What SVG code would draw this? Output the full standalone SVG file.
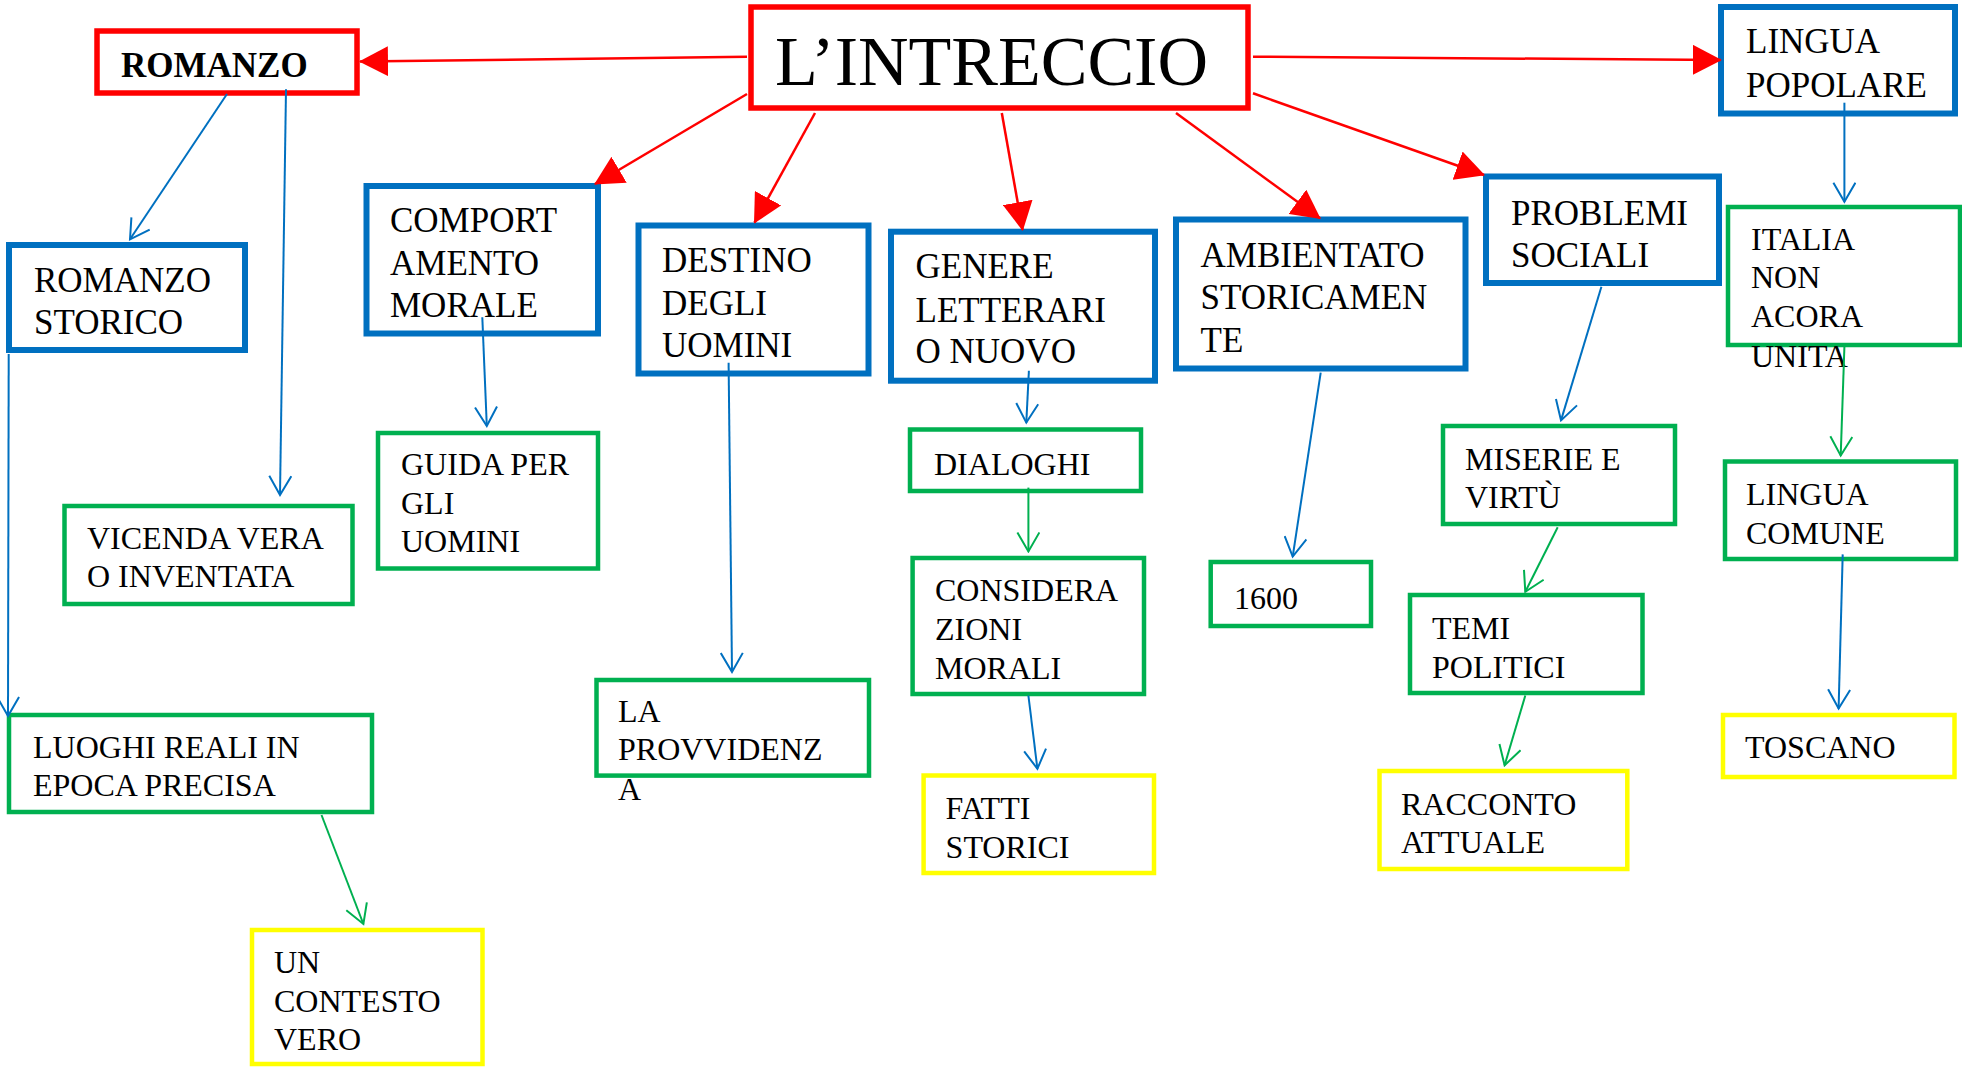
<svg xmlns="http://www.w3.org/2000/svg" width="1962" height="1069" viewBox="0 0 1962 1069">
<style>
text{font-family:"Liberation Serif","Times New Roman",serif;fill:#000}
.t{font-size:35px}
.s{font-size:32px}
rect{fill:#fff}
.red{stroke:#FF0000;stroke-width:5.5}
.blue{stroke:#0070C0;stroke-width:6}
.green{stroke:#00B050;stroke-width:4.5}
.yellow{stroke:#FFFF00;stroke-width:4.5}
.lr{stroke:#FF0000;stroke-width:2.5;fill:none;marker-end:url(#ar)}
.lb{stroke:#0070C0;stroke-width:2;fill:none;marker-end:url(#ab)}
.lg{stroke:#00B050;stroke-width:2;fill:none;marker-end:url(#ag)}
</style>
<defs>
<marker id="ar" viewBox="0 0 29 30" markerWidth="29" markerHeight="30" refX="28" refY="15" orient="auto" markerUnits="userSpaceOnUse"><path d="M0,0 L29,15 L0,30 Z" fill="#FF0000"/></marker>
<marker id="ab" viewBox="0 0 22 24" markerWidth="22" markerHeight="24" refX="20" refY="12" orient="auto" markerUnits="userSpaceOnUse"><path d="M1,1 L20,12 L1,23" fill="none" stroke="#0070C0" stroke-width="2"/></marker>
<marker id="ag" viewBox="0 0 22 24" markerWidth="22" markerHeight="24" refX="20" refY="12" orient="auto" markerUnits="userSpaceOnUse"><path d="M1,1 L20,12 L1,23" fill="none" stroke="#00B050" stroke-width="2"/></marker>
</defs>

<g id="intreccio"><rect class="red" x="751" y="7" width="497" height="101" stroke-width="6"/><text x="775" y="85" font-size="70">L’INTRECCIO</text></g>
<g id="romanzo"><rect class="red" x="97" y="31" width="260" height="62"/><text x="121" y="77" font-size="35" font-weight="bold">ROMANZO</text></g>
<g id="romanzo-storico"><rect class="blue" x="9" y="245" width="236" height="105"/><text class="t"><tspan x="34" y="292">ROMANZO</tspan><tspan x="34" y="334">STORICO</tspan></text></g>
<g id="comportamento"><rect class="blue" x="366.5" y="186" width="231.5" height="147.5"/><text class="t"><tspan x="390" y="232">COMPORT</tspan><tspan x="390" y="275">AMENTO</tspan><tspan x="390" y="317">MORALE</tspan></text></g>
<g id="destino"><rect class="blue" x="638.5" y="225.5" width="230" height="148"/><text class="t"><tspan x="662" y="272">DESTINO</tspan><tspan x="662" y="315">DEGLI</tspan><tspan x="662" y="357">UOMINI</tspan></text></g>
<g id="genere"><rect class="blue" x="891" y="231.7" width="264" height="149"/><text class="t"><tspan x="915.5" y="278">GENERE</tspan><tspan x="915.5" y="322">LETTERARI</tspan><tspan x="915.5" y="363">O NUOVO</tspan></text></g>
<g id="ambientato"><rect class="blue" x="1176" y="219.5" width="289.5" height="149"/><text class="t"><tspan x="1200.5" y="267">AMBIENTATO</tspan><tspan x="1200.5" y="309">STORICAMEN</tspan><tspan x="1200.5" y="352">TE</tspan></text></g>
<g id="problemi"><rect class="blue" x="1486" y="176.5" width="233" height="106.5"/><text class="t"><tspan x="1511" y="225">PROBLEMI</tspan><tspan x="1511" y="267">SOCIALI</tspan></text></g>
<g id="lingua-popolare"><rect class="blue" x="1721" y="7" width="234" height="106.5"/><text class="t"><tspan x="1746" y="53">LINGUA</tspan><tspan x="1746" y="97">POPOLARE</tspan></text></g>
<g id="italia"><rect class="green" x="1728" y="207" width="232" height="138"/><text class="s"><tspan x="1751" y="250">ITALIA</tspan><tspan x="1751" y="288">NON</tspan><tspan x="1751" y="327">ACORA</tspan><tspan x="1751" y="367">UNITA</tspan></text></g>
<g id="vicenda"><rect class="green" x="64.5" y="506" width="288" height="98"/><text class="s"><tspan x="87" y="549">VICENDA VERA</tspan><tspan x="87" y="587">O INVENTATA</tspan></text></g>
<g id="guida"><rect class="green" x="378" y="433" width="220" height="135.5"/><text class="s"><tspan x="401" y="475">GUIDA PER</tspan><tspan x="401" y="514">GLI</tspan><tspan x="401" y="552">UOMINI</tspan></text></g>
<g id="luoghi"><rect class="green" x="9" y="715" width="363" height="97"/><text class="s"><tspan x="33" y="758">LUOGHI REALI IN</tspan><tspan x="33" y="796">EPOCA PRECISA</tspan></text></g>
<g id="contesto"><rect class="yellow" x="252" y="930" width="230.5" height="134"/><text class="s"><tspan x="274" y="973">UN</tspan><tspan x="274" y="1012">CONTESTO</tspan><tspan x="274" y="1050">VERO</tspan></text></g>
<g id="provvidenza"><rect class="green" x="596.5" y="680" width="272.5" height="95.6"/><text class="s"><tspan x="618" y="722">LA</tspan><tspan x="618" y="760">PROVVIDENZ</tspan><tspan x="618" y="800">A</tspan></text></g>
<g id="dialoghi"><rect class="green" x="910" y="429.5" width="231" height="61.5"/><text class="s" x="934" y="474.5">DIALOGHI</text></g>
<g id="considerazioni"><rect class="green" x="912.6" y="558" width="231.4" height="136"/><text class="s"><tspan x="935" y="601">CONSIDERA</tspan><tspan x="935" y="640">ZIONI</tspan><tspan x="935" y="679">MORALI</tspan></text></g>
<g id="fatti"><rect class="yellow" x="923.6" y="775.5" width="230.4" height="97.5"/><text class="s"><tspan x="945.6" y="819">FATTI</tspan><tspan x="945.6" y="858">STORICI</tspan></text></g>
<g id="n1600"><rect class="green" x="1210.7" y="562" width="160.3" height="64"/><text class="s" x="1234" y="608.5">1600</text></g>
<g id="miserie"><rect class="green" x="1443" y="426" width="232" height="98"/><text class="s"><tspan x="1465" y="470">MISERIE E</tspan><tspan x="1465" y="508">VIRTÙ</tspan></text></g>
<g id="temi"><rect class="green" x="1410" y="595" width="232.5" height="98"/><text class="s"><tspan x="1432" y="639">TEMI</tspan><tspan x="1432" y="677.5">POLITICI</tspan></text></g>
<g id="racconto"><rect class="yellow" x="1379.5" y="771" width="247.8" height="98"/><text class="s"><tspan x="1401" y="815">RACCONTO</tspan><tspan x="1401" y="853">ATTUALE</tspan></text></g>
<g id="lingua-comune"><rect class="green" x="1725" y="461.5" width="231" height="97.5"/><text class="s"><tspan x="1746" y="505">LINGUA</tspan><tspan x="1746" y="544">COMUNE</tspan></text></g>
<g id="toscano"><rect class="yellow" x="1723" y="715" width="231.5" height="62"/><text class="s" x="1745" y="758">TOSCANO</text></g>

<g id="connectors">
<line class="lr" x1="747" y1="56.7" x2="360" y2="61.5"/>
<line class="lr" x1="747" y1="94" x2="595" y2="184"/>
<line class="lr" x1="815" y1="113" x2="754.5" y2="222.7"/>
<line class="lr" x1="1001.8" y1="113" x2="1022.6" y2="230"/>
<line class="lr" x1="1176" y1="113" x2="1320" y2="218.3"/>
<line class="lr" x1="1253" y1="93.3" x2="1484" y2="175"/>
<line class="lr" x1="1253" y1="56.7" x2="1720.8" y2="60"/>
<line class="lb" x1="227" y1="94" x2="130" y2="239.3"/>
<line class="lb" x1="286" y1="89.3" x2="280" y2="495"/>
<line class="lb" x1="8.7" y1="354" x2="8" y2="716"/>
<line class="lb" x1="482.3" y1="317.3" x2="486.8" y2="426"/>
<line class="lb" x1="728.6" y1="362.7" x2="732" y2="672"/>
<line class="lb" x1="1028.9" y1="370.7" x2="1026.3" y2="422.6"/>
<line class="lb" x1="1320.7" y1="372.7" x2="1292.7" y2="556.6"/>
<line class="lb" x1="1601.4" y1="286.7" x2="1561" y2="420.4"/>
<line class="lb" x1="1844.4" y1="102.7" x2="1844.4" y2="201.7"/>
<line class="lb" x1="1028.4" y1="695.5" x2="1037.4" y2="768.8"/>
<line class="lb" x1="1842.7" y1="554.4" x2="1838.6" y2="708.6"/>
<line class="lg" x1="1028.4" y1="487.6" x2="1028.4" y2="551.4"/>
<line class="lg" x1="1557.7" y1="527.2" x2="1525.3" y2="591.8"/>
<line class="lg" x1="1525.3" y1="695.5" x2="1504.6" y2="765.3"/>
<line class="lg" x1="1844.4" y1="346.7" x2="1840.7" y2="455.6"/>
<line class="lg" x1="321.5" y1="815" x2="363.4" y2="924"/>
</g>
</svg>
